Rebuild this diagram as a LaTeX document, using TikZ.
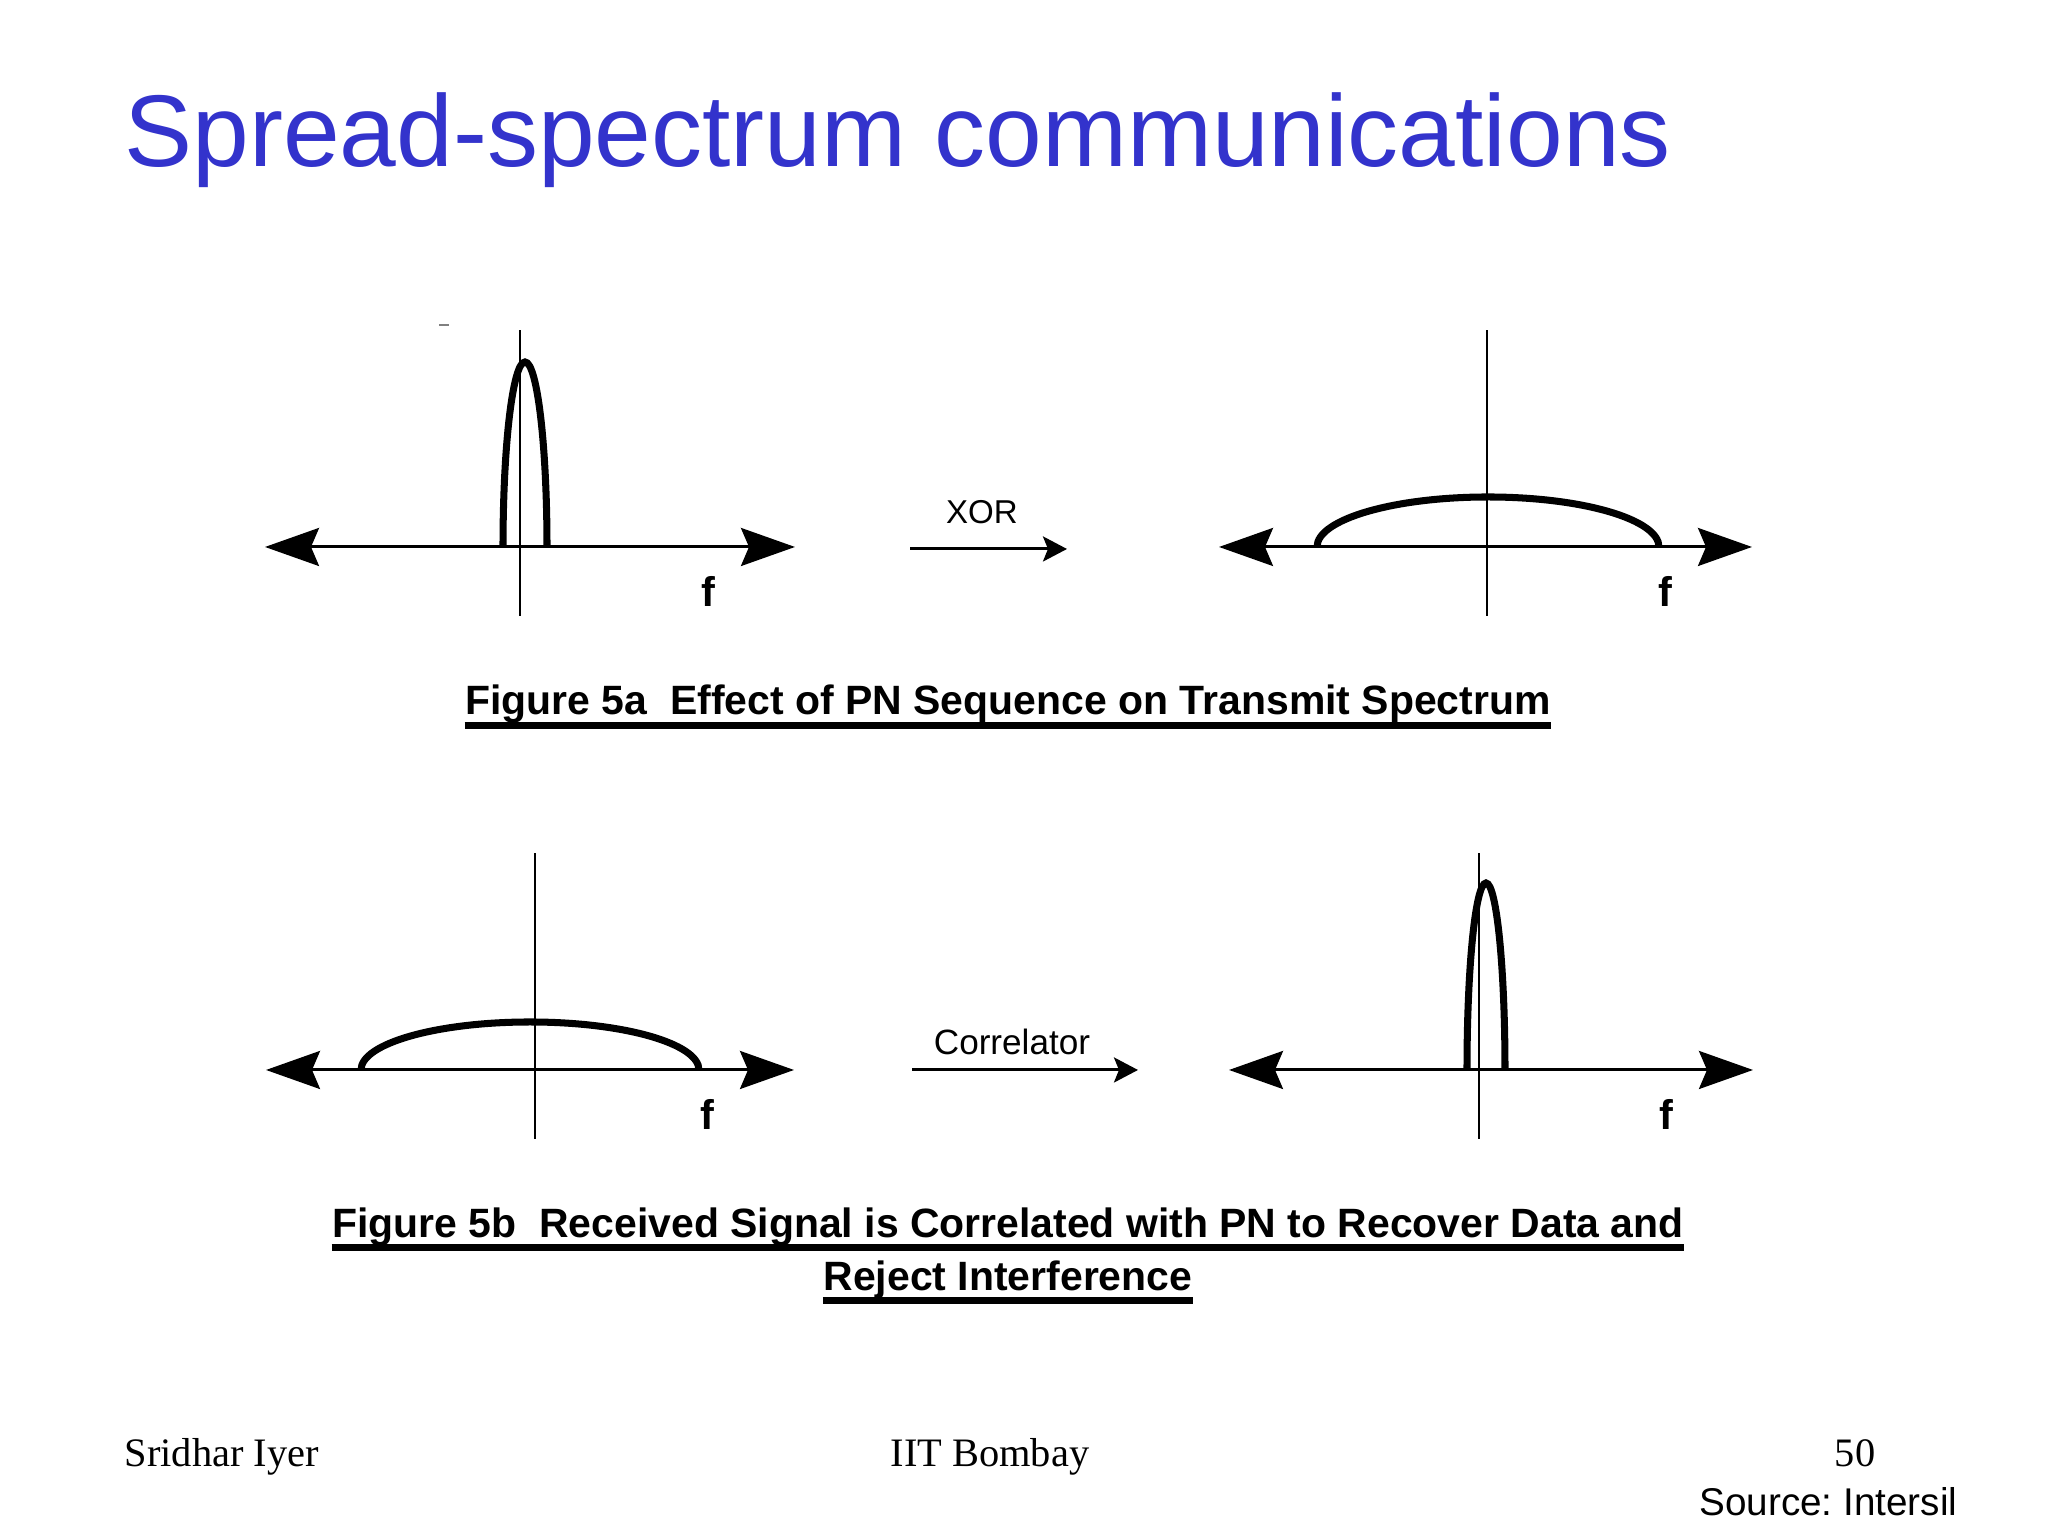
\documentclass[tikz,border=0pt]{standalone}
\usepackage{fontspec}
\setmainfont{Liberation Sans}
\newfontfamily\footfont{Liberation Serif}
\usetikzlibrary{arrows.meta}

\definecolor{titleblue}{RGB}{51,51,204}

\tikzset{
  freqaxis/.style={line width=0.85pt,
    {Stealth[length=5.4mm,width=3.8mm,inset=0.8mm]}-{Stealth[length=5.4mm,width=3.8mm,inset=0.8mm]}},
  ordinate/.style={line width=0.85pt},
  spectrum/.style={line width=2pt},
  flow/.style={line width=0.85pt, -{Stealth[length=2.4mm,width=2.5mm,inset=0.5mm]}},
  flowlabel/.style={inner sep=0pt, font=\fontsize{9.4}{11}\selectfont},
  flabel/.style={inner sep=0pt, font=\fontsize{11.8}{14}\selectfont\bfseries},
  figcaption/.style={inner sep=0pt, anchor=base, font=\fontsize{11.65}{14}\selectfont\bfseries},
  underline/.style={line width=2pt},
  footer/.style={inner sep=0pt, anchor=base, font=\fontsize{11.5}{14}\selectfont\footfont},
}

\begin{document}
\frenchspacing
\begin{tikzpicture}
\useasboundingbox[fill=white] (0,0) rectangle (20.48,15.36);

% title
\node[anchor=base west, inner sep=0pt, text=titleblue, font=\fontsize{29}{34}\selectfont]
  (title) at (1.24,13.69) {Spread-spectrum communications};

% the four spectra: name/left tip/right tip/axis y/ordinate x/curve start/half width/height
\foreach \p/\l/\r/\y/\v/\s/\w/\h in {tl/2.65/7.95/9.89/5.20/5.03/0.22/1.85,
    tr/12.19/17.52/9.89/14.87/13.17/1.71/0.50,
    bl/2.66/7.94/4.66/5.35/3.61/1.69/0.48,
    br/12.29/17.53/4.66/14.79/14.67/0.19/1.87} {
  \coordinate (\p-l) at (\l,\y);
  \coordinate (\p-r) at (\r,\y);
  \coordinate (\p-b) at (\v,\y-0.69);
  \coordinate (\p-t) at (\v,\y+2.17);
  \coordinate (\p-s) at (\s,\y);
  \draw[freqaxis] (\p-l) -- (\p-r);
  \draw[ordinate] (\p-b) -- (\p-t);
  \draw[spectrum] (\p-s) arc[start angle=180, end angle=0, x radius=\w, y radius=\h];
  \node[flabel] (\p-f) at (\r-0.87,\y-0.44) {f};
}
\draw[gray, line width=0.5pt] (4.39,12.11) -- (4.49,12.11);

% XOR step
\coordinate (xor-a) at (9.10,9.87);
\coordinate (xor-b) at (10.67,9.87);
\draw[flow] (xor-a) -- (xor-b);
\node[flowlabel] (xor) at (9.82,10.24) {XOR};

% correlator step
\coordinate (cor-a) at (9.12,4.66);
\coordinate (cor-b) at (11.38,4.66);
\draw[flow] (cor-a) -- (cor-b);
\node[flowlabel, font=\fontsize{10}{12}\selectfont] (cor) at (10.12,4.94) {Correlator};

% captions
\node[figcaption] (cap5a) at (10.08,8.21) {Figure 5a\ \ Effect of PN Sequence on Transmit Spectrum};
\draw[underline] ([yshift=-1.1mm]cap5a.base west) -- ([yshift=-1.1mm]cap5a.base east);
\node[figcaption] (cap5b) at (10.08,2.98) {Figure 5b\ \ Received Signal is Correlated with PN to Recover Data and};
\draw[underline] ([yshift=-1mm]cap5b.base west) -- ([yshift=-1mm]cap5b.base east);
\node[figcaption] (cap5c) at (10.08,2.45) {Reject Interference};
\draw[underline] ([yshift=-1mm]cap5c.base west) -- ([yshift=-1mm]cap5c.base east);

% footer
\node[footer, anchor=base west] (author) at (1.24,0.69) {Sridhar Iyer};
\node[footer] (inst) at (9.90,0.69) {IIT Bombay};
\node[footer] (page) at (18.55,0.69) {50};
\node[inner sep=0pt, anchor=base east, font=\fontsize{11}{13}\selectfont] (source) at (19.58,0.20) {Source: Intersil};
\end{tikzpicture}
\end{document}
